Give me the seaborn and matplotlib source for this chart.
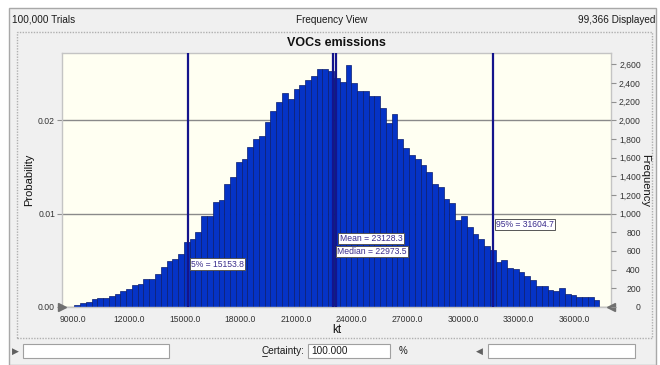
import numpy as np
import pandas as pd
import matplotlib
matplotlib.use("Agg")
import matplotlib.pyplot as plt
import seaborn as sns
from matplotlib.patches import Rectangle
from matplotlib.lines import Line2D
from matplotlib.ticker import FixedLocator, FuncFormatter

# ---------------- data ----------------
trials = 100000
displayed_text = "99,366 Displayed"
trials_text = "100,000 Trials"
chart_title = "VOCs emissions"
x_label = "kt"
bin_start = 9050.0
bin_width = 311.0
frequency = [20, 38, 55, 90, 93, 100, 122, 136, 172, 197, 233, 244, 297, 305,
             351, 430, 495, 516, 570, 692, 728, 799, 971, 978, 1129, 1147,
             1315, 1394, 1552, 1581, 1710, 1803, 1831, 1986, 2097, 2194, 2290,
             2226, 2333, 2380, 2427, 2470, 2552, 2548, 2527, 2448, 2405, 2591,
             2394, 2315, 2308, 2262, 2262, 2136, 1975, 2065, 1803, 1703, 1624,
             1581, 1523, 1444, 1315, 1290, 1161, 1115, 933, 978, 857, 781, 728,
             649, 606, 487, 505, 416, 405, 380, 333, 290, 226, 226, 183, 176,
             201, 140, 129, 104, 104, 104, 75]
p5 = 15153.8
mean_val = 23128.3
median_val = 22973.5
p95 = 31604.7
x_ticks = [9000, 12000, 15000, 18000, 21000, 24000, 27000, 30000, 33000, 36000]
prob_ticks = [0.0, 0.01, 0.02]
freq_ticks = list(range(0, 2800, 200))
certainty = "100.000"

# ---------------- style ----------------
sns.set_style("white")
plt.rcParams["font.family"] = ["Liberation Sans", "DejaVu Sans"]

W, H = 660, 365
fig = plt.figure(figsize=(W / 100, H / 100), dpi=100)
fig.patch.set_facecolor("white")

def fx(px):
    return px / W

def fy(py):
    return 1 - py / H

# window background and borders
fig.patches.append(Rectangle((fx(8.5), 0), fx(656) - fx(8.5), fy(8), transform=fig.transFigure,
                             facecolor="#f0f0f0", edgecolor="#a8a8a8", lw=1.0, zorder=-3))
fig.patches.append(Rectangle((fx(17), fy(338)), fx(652) - fx(17), fy(32) - fy(338),
                             transform=fig.transFigure, facecolor="#f0f0f0",
                             edgecolor="#b0b0b0", lw=1.0, ls=(0, (1, 1)), zorder=-2))

tc = "#1a1a1a"
fig.text(fx(12), fy(20), trials_text, fontsize=7.2, color=tc, va="center", ha="left")
fig.text(fx(332), fy(20), "Frequency View", fontsize=7.2, color=tc, va="center", ha="center")
fig.text(fx(655), fy(20), displayed_text, fontsize=7.2, color=tc, va="center", ha="right")

# ---------------- chart ----------------
n = len(frequency)
edges = bin_start + bin_width * np.arange(n + 1)
df = pd.DataFrame({"center": (edges[:-1] + edges[1:]) / 2,
                   "prob": np.array(frequency, dtype=float) / trials})

ax = fig.add_axes([fx(62), fy(307), fx(611) - fx(62), fy(53) - fy(307)])
ax.set_facecolor("#fffff2")
sns.histplot(data=df, x="center", weights="prob", binwidth=bin_width,
             binrange=(float(edges[0]), float(edges[-1])), ax=ax,
             color="#0533c6", edgecolor="#0b1d6e", linewidth=0.5, alpha=1.0, zorder=2)
ax.set_xlim(8391, 37971)
ax.set_ylim(0, 0.0272)

ax.yaxis.set_major_locator(FixedLocator(prob_ticks))
ax.yaxis.set_major_formatter(FuncFormatter(lambda v, p: f"{v:.2f}"))
ax.xaxis.set_major_locator(FixedLocator(x_ticks))
ax.xaxis.set_major_formatter(FuncFormatter(lambda v, p: f"{v:.1f}"))
ax.set_axisbelow(True)
ax.yaxis.grid(True, color="#8a8a8a", lw=1.0)
ax.xaxis.grid(False)
for s in ax.spines.values():
    s.set_color("#c4c4c4")
    s.set_linewidth(1.0)
ax.tick_params(axis="both", which="major", direction="out", length=3.5, width=0.8,
               color="#909090", labelsize=6.2, labelcolor="#333333", pad=2)
ax.tick_params(axis="y", pad=1.5)
ax.set_xlabel(x_label, fontsize=8.5, color="#111111", labelpad=0)
ax.set_ylabel("Probability", fontsize=8, color="#111111", labelpad=3)

ax2 = ax.twinx()
ax2.set_ylim(0, 0.0272 * trials)
ax2.yaxis.set_major_locator(FixedLocator(freq_ticks))
ax2.yaxis.set_major_formatter(FuncFormatter(lambda v, p: f"{int(v):,}"))
ax2.tick_params(axis="y", direction="out", length=3.5, width=0.8, color="#909090",
                labelsize=6.2, labelcolor="#333333", pad=18)
for lab in ax2.get_yticklabels():
    lab.set_horizontalalignment("right")
for s in ax2.spines.values():
    s.set_visible(False)
ax2.set_ylabel("Frequency", fontsize=8, color="#111111", rotation=-90, labelpad=7)

# statistic lines
line_c = "#14148c"
for v in [p5, median_val, mean_val, p95]:
    ax.axvline(v, color=line_c, lw=1.6, zorder=3)

ann_kw = dict(fontsize=6.2, color="#3a2c8c", ha="left", va="center", textcoords="offset points",
              bbox=dict(boxstyle="square,pad=0.15", facecolor="white", edgecolor="#555555", lw=0.7),
              zorder=5)
ax.annotate(f"5% = {p5:.1f}", xy=(p5, 0.0046), xytext=(2.5, 0), **ann_kw)
ax.annotate(f"Mean = {mean_val:.1f}", xy=(mean_val, 0.00735), xytext=(3, 0), **ann_kw)
ax.annotate(f"Median = {median_val:.1f}", xy=(median_val, 0.00595), xytext=(3, 0), **ann_kw)
ax.annotate(f"95% = {p95:.1f}", xy=(p95, 0.00885), xytext=(2.5, 0), **ann_kw)

# corner triangles
ax.plot([0], [0], transform=ax.transAxes, marker=">", ms=6, color="#707070", clip_on=False, zorder=6)
ax.plot([1], [0], transform=ax.transAxes, marker="<", ms=6, color="#707070", clip_on=False, zorder=6)

fig.text(fx(336.5), fy(43), chart_title, fontsize=9, fontweight="bold", color="#111111",
         ha="center", va="center")

# ---------------- bottom control row ----------------
def box(x0, x1, y0=344, y1=358):
    fig.patches.append(Rectangle((fx(x0), fy(y1)), fx(x1) - fx(x0), fy(y0) - fy(y1),
                                 transform=fig.transFigure, facecolor="white",
                                 edgecolor="#a0a0a0", lw=0.8, zorder=-1))

box(23, 169)
box(308, 390)
box(488, 635)
fig.text(fx(15), fy(351), "\u25B6", fontsize=6.5, color="#606060", ha="center", va="center",
         family=["DejaVu Sans"])
fig.text(fx(479), fy(351), "\u25C0", fontsize=6.5, color="#606060", ha="center", va="center",
         family=["DejaVu Sans"])
fig.text(fx(261), fy(351), "Certainty:", fontsize=7.2, color=tc, ha="left", va="center")
fig.lines.append(Line2D([fx(261.5), fx(266.5)], [fy(356), fy(356)], transform=fig.transFigure,
                        color=tc, lw=0.6))
fig.text(fx(311), fy(351), certainty, fontsize=7.2, color=tc, ha="left", va="center")
fig.text(fx(403), fy(351), "%", fontsize=7, color=tc, ha="center", va="center")

fig.savefig("out.png", dpi=100)
